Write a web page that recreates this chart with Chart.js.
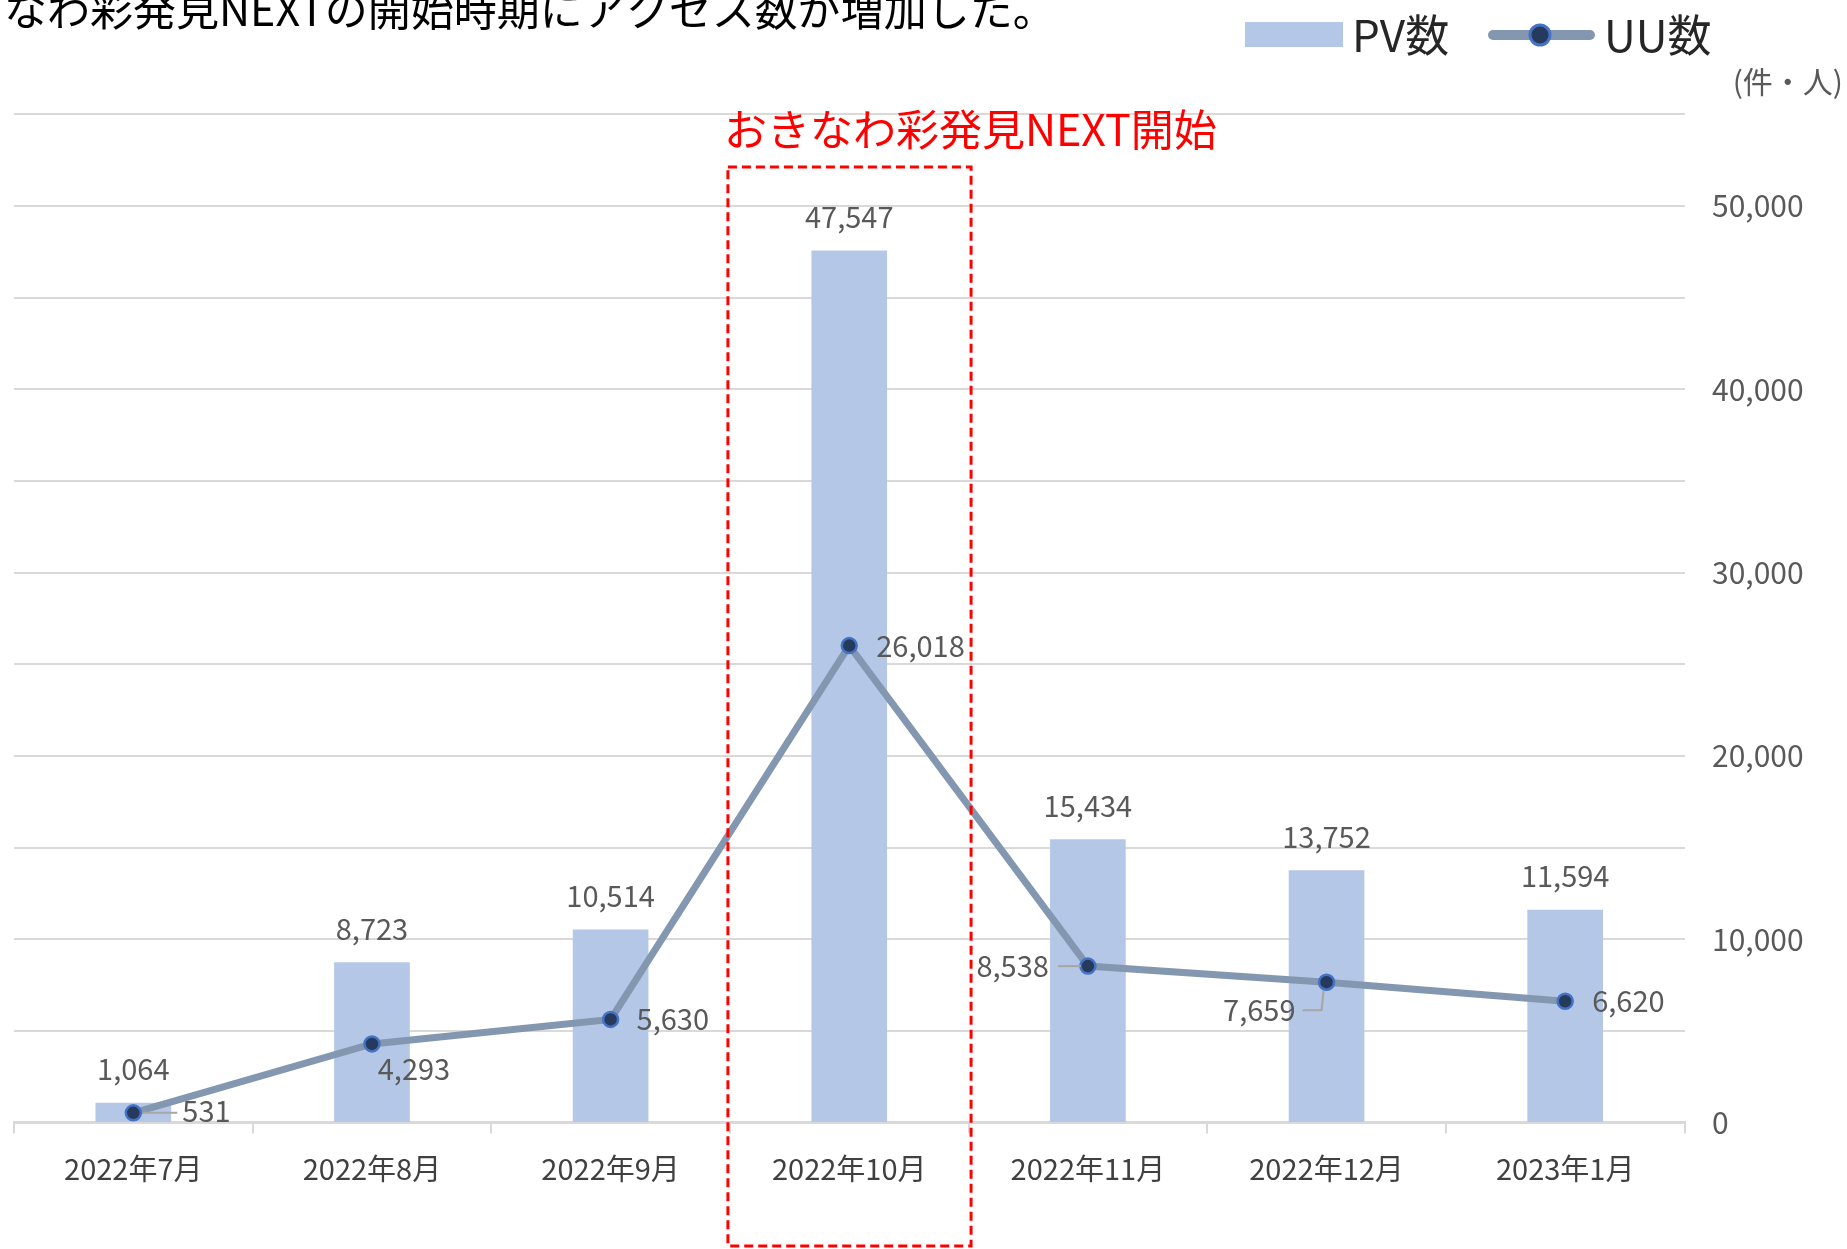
<!DOCTYPE html>
<html>
<head>
<meta charset="utf-8">
<script src="https://cdn.jsdelivr.net/npm/chart.js@4.4.1/dist/chart.umd.min.js"></script>
<style>
html,body{margin:0;padding:0;background:#fff;}
#wrap{width:1847px;height:1249px;position:relative;}
</style>
</head>
<body>
<div id="wrap"><canvas id="c" width="1847" height="1249"></canvas></div>
<script>
// ---- data ----
const categories = ['2022年7月','2022年8月','2022年9月','2022年10月','2022年11月','2022年12月','2023年1月'];
const pvValues = [1064, 8723, 10514, 47547, 15434, 13752, 11594];
const uuValues = [531, 4293, 5630, 26018, 8538, 7659, 6620];
const seriesNames = ['PV数', 'UU数'];
const titleText = 'なわ彩発見NEXTの開始時期にアクセス数が増加した。';
const annotationText = 'おきなわ彩発見NEXT開始';
const unitText = '(件・人)';
const highlightIndex = 3;

// ---- label placement (styles, not data) ----
const uuLabelPlace = [
  {align:'left', dx:49, dy:-2, leader:[[9,0],[44,0]]},
  {align:'center', dx:42, dy:25},
  {align:'left', dx:26, dy:0},
  {align:'left', dx:27, dy:0},
  {align:'right', dx:-39, dy:0, leader:[[-30,0],[-7,0]]},
  {align:'right', dx:-31, dy:28, leader:[[-24,28],[-5,28],[-3,9]]},
  {align:'left', dx:27, dy:0}
];

const FONT = '"Noto Sans CJK JP", "Noto Sans", sans-serif';
const fmt = v => v.toLocaleString('en-US');

const W = 1847, H = 1249;
const AREA = {left:14, right:1684.5, top:114.3, bottom:1122.6};

const overlay = {
  id:'overlay',
  afterDatasetsDraw(chart){
    const ctx = chart.ctx;
    ctx.save();
    // PV labels
    const barMeta = chart.getDatasetMeta(0);
    ctx.font = '29px ' + FONT;
    ctx.fillStyle = '#595959';
    ctx.textAlign = 'center';
    ctx.textBaseline = 'middle';
    barMeta.data.forEach((el,i)=>{
      ctx.fillText(fmt(pvValues[i]), el.x, el.y - 34);
    });
    // UU labels
    const lineMeta = chart.getDatasetMeta(1);
    lineMeta.data.forEach((el,i)=>{
      const p = uuLabelPlace[i];
      if (p.leader){
        ctx.strokeStyle = '#a6a6a6';
        ctx.lineWidth = 2;
        ctx.beginPath();
        p.leader.forEach((pt,k)=>{
          const x = el.x + pt[0], y = el.y + pt[1];
          if (k===0) ctx.moveTo(x,y); else ctx.lineTo(x,y);
        });
        ctx.stroke();
      }
      ctx.fillStyle = '#595959';
      ctx.textAlign = p.align;
      ctx.fillText(fmt(uuValues[i]), el.x + p.dx, el.y + p.dy);
    });
    ctx.restore();
  },
  afterDraw(chart){
    const ctx = chart.ctx;
    const xs = chart.scales.x;
    ctx.save();
    // title (clipped at top)
    ctx.font = '43px ' + FONT;
    ctx.fillStyle = '#000';
    ctx.textAlign = 'left';
    ctx.textBaseline = 'alphabetic';
    ctx.fillText(titleText, 4, 26);
    // unit
    ctx.font = '30px ' + FONT;
    ctx.fillStyle = '#595959';
    ctx.textAlign = 'right';
    ctx.fillText(unitText, 1843, 93);
    ctx.textAlign = 'left';
    // legend
    ctx.fillStyle = '#b4c7e7';
    ctx.fillRect(1245, 22, 98, 25);
    ctx.font = '44px ' + FONT;
    ctx.fillStyle = '#262626';
    ctx.textBaseline = 'middle';
    ctx.fillText(seriesNames[0], 1352, 35);
    ctx.strokeStyle = '#8497b0';
    ctx.lineWidth = 10;
    ctx.lineCap = 'round';
    ctx.beginPath(); ctx.moveTo(1493,35); ctx.lineTo(1590,35); ctx.stroke();
    ctx.beginPath(); ctx.arc(1540,35,10,0,Math.PI*2);
    ctx.fillStyle = '#263a5e'; ctx.fill();
    ctx.lineWidth = 3; ctx.strokeStyle = '#4472c4'; ctx.stroke();
    ctx.fillStyle = '#262626';
    ctx.fillText(seriesNames[1], 1604, 35);
    // highlight box around category
    const half = (xs.getPixelForValue(1) - xs.getPixelForValue(0)) / 2;
    const cx = xs.getPixelForValue(highlightIndex);
    const bl = cx - half - 2, br = cx + half + 2.5;
    ctx.strokeStyle = '#ff0000';
    ctx.lineWidth = 3;
    ctx.lineCap = 'butt';
    ctx.setLineDash([9,5]);
    ctx.strokeRect(bl, 167, br - bl, 1079);
    ctx.setLineDash([]);
    // annotation text
    ctx.font = '43px ' + FONT;
    ctx.fillStyle = '#ff0000';
    ctx.textAlign = 'left';
    ctx.textBaseline = 'alphabetic';
    ctx.fillText(annotationText, bl - 4, 146);
    ctx.restore();
  }
};

new Chart(document.getElementById('c'), {
  data:{
    labels: categories,
    datasets:[
      {type:'bar', label:seriesNames[0], data:pvValues, backgroundColor:'#b4c7e7', barThickness:75, order:2},
      {type:'line', label:seriesNames[1], data:uuValues, borderColor:'#8497b0', borderWidth:7,
       pointRadius:7.5, pointBackgroundColor:'#263a5e', pointBorderColor:'#4472c4', pointBorderWidth:2.5,
       tension:0, order:1}
    ]
  },
  options:{
    responsive:false,
    animation:false,
    devicePixelRatio:1,
    layout:{padding:{left:AREA.left, top:AREA.top, right:0, bottom:0}},
    plugins:{legend:{display:false}, title:{display:false}, tooltip:{enabled:false}},
    scales:{
      x:{
        type:'category',
        offset:true,
        grid:{display:true, drawOnChartArea:false, drawTicks:true, tickLength:11, color:'#d9d9d9', lineWidth:2, offset:true},
        border:{display:true, color:'#d9d9d9', width:3},
        ticks:{font:{family:FONT, size:29}, color:'#404040', padding:18, maxRotation:0, autoSkip:false},
        afterFit(s){ s.height = H - AREA.bottom; }
      },
      y:{
        position:'right',
        min:0, max:55000,
        grid:{color:'#d9d9d9', lineWidth:2, drawTicks:false},
        border:{display:false},
        ticks:{stepSize:5000, padding:27.5, font:{family:FONT, size:30}, color:'#595959',
          callback:v => (v % 10000 === 0 ? fmt(v) : '')},
        afterFit(s){ s.width = W - AREA.right; }
      }
    }
  },
  plugins:[overlay]
});
</script>
</body>
</html>
